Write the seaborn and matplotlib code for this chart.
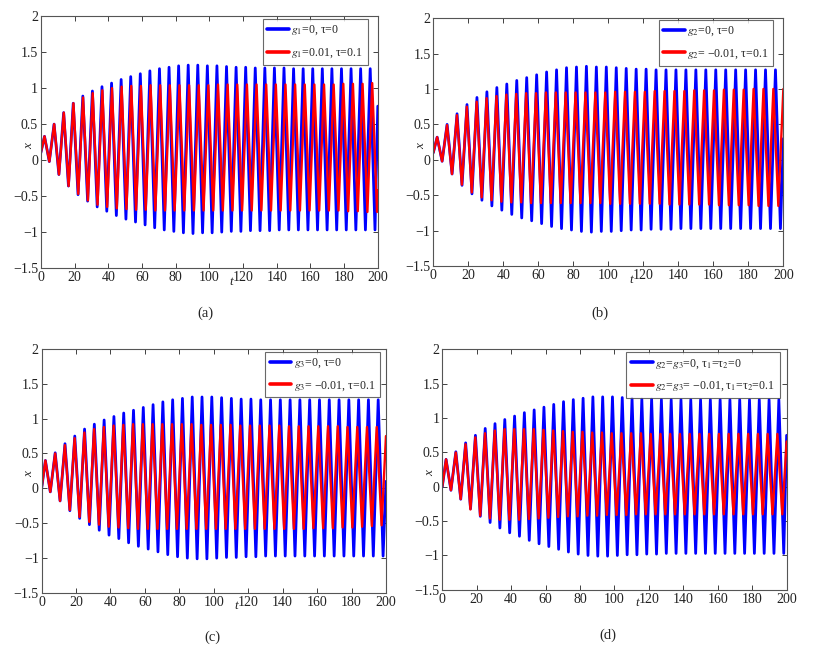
import numpy as np
import pandas as pd
import matplotlib
matplotlib.use("Agg")
import matplotlib.pyplot as plt
import seaborn as sns
from matplotlib.ticker import FuncFormatter

# =============================================================================
# DATA (successive maxima / minima of x(t))
# =============================================================================

T_FIRST = 2.2          # time of the first maximum
T_END = 200.0

# panel (a)
a_blue_start, a_blue_end, a_blue_period = 0.10, 0.75, 5.685
a_blue_peaks = [0.33, 0.50, 0.66, 0.79, 0.89, 0.96, 1.02, 1.07, 1.12, 1.16, 1.20, 1.24,
                1.27, 1.29, 1.31, 1.32, 1.32, 1.31, 1.31, 1.30, 1.29, 1.29, 1.28, 1.28,
                1.28, 1.28, 1.27, 1.27, 1.27, 1.27, 1.27, 1.27, 1.27, 1.27, 1.27]
a_blue_troughs = [-0.02, -0.20, -0.36, -0.48, -0.57, -0.65, -0.71, -0.77, -0.82, -0.86,
                  -0.90, -0.94, -0.97, -0.99, -1.01, -1.02, -1.01, -1.01, -1.00, -0.99,
                  -0.99, -0.98, -0.98, -0.98, -0.97, -0.97, -0.97, -0.97, -0.97, -0.97,
                  -0.97, -0.97, -0.97, -0.97, -0.97]
a_red_start, a_red_end, a_red_period = 0.10, -0.42, 5.72
a_red_peaks = [0.33, 0.50, 0.66, 0.79, 0.87, 0.93, 0.97, 1.00, 1.02, 1.03, 1.03, 1.04,
               1.04, 1.04, 1.04, 1.04, 1.04, 1.04, 1.05, 1.05, 1.05, 1.05, 1.05, 1.05,
               1.05, 1.05, 1.05, 1.05, 1.05, 1.05, 1.05, 1.06, 1.06, 1.06, 1.07]
a_red_troughs = [-0.02, -0.20, -0.36, -0.47, -0.56, -0.62, -0.65, -0.67, -0.68, -0.69,
                 -0.69, -0.70, -0.70, -0.70, -0.70, -0.70, -0.70, -0.70, -0.70, -0.70,
                 -0.70, -0.70, -0.70, -0.70, -0.70, -0.70, -0.70, -0.70, -0.70, -0.70,
                 -0.70, -0.71, -0.71, -0.72, -0.72]

# panel (b)
b_blue_start, b_blue_end, b_blue_period = 0.10, 0.30, 5.685
b_blue_peaks = [0.32, 0.50, 0.65, 0.78, 0.88, 0.96, 1.02, 1.07, 1.12, 1.16, 1.20, 1.24,
                1.27, 1.30, 1.31, 1.32, 1.31, 1.31, 1.30, 1.29, 1.28, 1.28, 1.27, 1.27,
                1.27, 1.27, 1.27, 1.27, 1.27, 1.27, 1.27, 1.27, 1.27, 1.27, 1.27]
b_blue_troughs = [-0.02, -0.20, -0.36, -0.48, -0.57, -0.65, -0.71, -0.77, -0.82, -0.86,
                  -0.90, -0.94, -0.97, -0.99, -1.01, -1.02, -1.01, -1.01, -1.00, -0.99,
                  -0.99, -0.98, -0.98, -0.98, -0.97, -0.97, -0.97, -0.97, -0.97, -0.97,
                  -0.97, -0.97, -0.97, -0.97, -0.97]
b_red_start, b_red_end, b_red_period = 0.10, 1.00, 5.65
b_red_peaks = [0.32, 0.49, 0.63, 0.75, 0.82, 0.87, 0.90, 0.92, 0.93, 0.94, 0.94, 0.95,
               0.95, 0.95, 0.95, 0.95, 0.95, 0.95, 0.96, 0.96, 0.96, 0.96, 0.97, 0.97,
               0.97, 0.97, 0.98, 0.98, 0.98, 0.99, 0.99, 0.99, 1.00, 1.00, 1.00]
b_red_troughs = [-0.02, -0.20, -0.35, -0.46, -0.53, -0.57, -0.59, -0.60, -0.60, -0.61,
                 -0.61, -0.61, -0.61, -0.61, -0.61, -0.61, -0.61, -0.62, -0.62, -0.62,
                 -0.62, -0.62, -0.62, -0.63, -0.63, -0.63, -0.63, -0.63, -0.64, -0.64,
                 -0.64, -0.64, -0.65, -0.65, -0.65]

# panel (c)
c_blue_start, c_blue_end, c_blue_period = 0.0, 0.10, 5.685
c_blue_peaks = [0.40, 0.51, 0.64, 0.75, 0.85, 0.92, 0.98, 1.03, 1.08, 1.12, 1.16, 1.20,
                1.24, 1.27, 1.29, 1.31, 1.31, 1.31, 1.30, 1.29, 1.28, 1.28, 1.27, 1.27,
                1.27, 1.27, 1.27, 1.27, 1.27, 1.27, 1.27, 1.27, 1.27, 1.27, 1.27]
c_blue_troughs = [-0.05, -0.18, -0.32, -0.43, -0.52, -0.60, -0.67, -0.72, -0.78, -0.83,
                  -0.87, -0.91, -0.95, -0.98, -1.00, -1.01, -1.01, -1.00, -0.99, -0.99,
                  -0.98, -0.98, -0.97, -0.97, -0.97, -0.97, -0.97, -0.97, -0.97, -0.97,
                  -0.97, -0.97, -0.97, -0.97, -0.97]
c_red_start, c_red_end, c_red_period = 0.0, 0.75, 5.66
c_red_peaks = [0.40, 0.50, 0.62, 0.72, 0.80, 0.85, 0.88, 0.90, 0.91, 0.92, 0.92, 0.92,
               0.92, 0.92, 0.92, 0.92, 0.91, 0.91, 0.91, 0.91, 0.90, 0.90, 0.90, 0.90,
               0.90, 0.89, 0.89, 0.89, 0.89, 0.89, 0.89, 0.88, 0.88, 0.88, 0.88]
c_red_troughs = [-0.05, -0.18, -0.31, -0.41, -0.48, -0.52, -0.55, -0.56, -0.57, -0.58,
                 -0.58, -0.58, -0.58, -0.58, -0.58, -0.58, -0.58, -0.58, -0.58, -0.58,
                 -0.58, -0.58, -0.58, -0.58, -0.58, -0.58, -0.58, -0.57, -0.57, -0.57,
                 -0.56, -0.56, -0.55, -0.54, -0.53]

# panel (d)
d_blue_start, d_blue_end, d_blue_period = 0.0, 0.75, 5.685
d_blue_peaks = c_blue_peaks
d_blue_troughs = c_blue_troughs
d_red_start, d_red_end, d_red_period = 0.0, 0.66, 5.66
d_red_peaks = [0.40, 0.50, 0.62, 0.72, 0.78, 0.82, 0.84, 0.84, 0.84, 0.84, 0.83, 0.82,
               0.81, 0.80, 0.80, 0.79, 0.79, 0.78, 0.78, 0.78, 0.78, 0.77, 0.77, 0.77,
               0.77, 0.77, 0.77, 0.77, 0.77, 0.77, 0.77, 0.77, 0.77, 0.77, 0.77]
d_red_troughs = [-0.05, -0.18, -0.33, -0.42, -0.46, -0.48, -0.48, -0.48, -0.47, -0.46,
                 -0.45, -0.44, -0.43, -0.43, -0.42, -0.42, -0.41, -0.41, -0.41, -0.40,
                 -0.40, -0.40, -0.40, -0.40, -0.40, -0.40, -0.40, -0.40, -0.40, -0.40,
                 -0.40, -0.40, -0.40, -0.40, -0.40]

LABELS = {
    "a": ["$g_1$=0, τ=0", "$g_1$=0.01, τ=0.1"],
    "b": ["$g_2$=0, τ=0", "$g_2$= −0.01, τ=0.1"],
    "c": ["$g_3$=0, τ=0", "$g_3$= −0.01, τ=0.1"],
    "d": ["$g_2$=$g_3$=0, τ$_1$=τ$_2$=0", "$g_2$=$g_3$= −0.01, τ$_1$=τ$_2$=0.1"],
}

X_TICKS = [0, 20, 40, 60, 80, 100, 120, 140, 160, 180, 200]
Y_TICKS = [-1.5, -1, -0.5, 0, 0.5, 1, 1.5, 2]


def build_series(start, peaks, troughs, period, end, label):
    t = [0.0]
    t += [T_FIRST + k * period for k in range(len(peaks))]
    t += [T_FIRST + (k + 0.5) * period for k in range(len(troughs))]
    t += [T_END]
    x = [start] + list(peaks) + list(troughs) + [end]
    df = pd.DataFrame({"t": t, "x": x, "case": label})
    df = df[df["t"] <= T_END].sort_values("t")
    return df


# =============================================================================
# FIGURE
# =============================================================================

sns.set_style("ticks")
plt.rcParams["font.family"] = ["Liberation Serif", "DejaVu Serif"]
plt.rcParams["mathtext.fontset"] = "stix"
plt.rcParams["axes.unicode_minus"] = True

fig = plt.figure(figsize=(8.16, 6.46), dpi=100)

# axes rect, caption centre (px), legend gap from the top-right corner (px)
panels = {
    "a": dict(rect=[0.050, 0.585, 0.413, 0.390], cap=(205, 313), gap=(10, 3),
              blue=(a_blue_start, a_blue_peaks, a_blue_troughs, a_blue_period, a_blue_end),
              red=(a_red_start, a_red_peaks, a_red_troughs, a_red_period, a_red_end)),
    "b": dict(rect=[0.531, 0.588, 0.429, 0.384], cap=(600, 313), gap=(10, 2),
              blue=(b_blue_start, b_blue_peaks, b_blue_troughs, b_blue_period, b_blue_end),
              red=(b_red_start, b_red_peaks, b_red_troughs, b_red_period, b_red_end)),
    "c": dict(rect=[0.051, 0.082, 0.422, 0.378], cap=(212, 637), gap=(6, 3),
              blue=(c_blue_start, c_blue_peaks, c_blue_troughs, c_blue_period, c_blue_end),
              red=(c_red_start, c_red_peaks, c_red_troughs, c_red_period, c_red_end)),
    "d": dict(rect=[0.542, 0.087, 0.422, 0.372], cap=(608, 635), gap=(7, 3),
              blue=(d_blue_start, d_blue_peaks, d_blue_troughs, d_blue_period, d_blue_end),
              red=(d_red_start, d_red_peaks, d_red_troughs, d_red_period, d_red_end)),
}

fmt = FuncFormatter(lambda v, p: f"{v:g}".replace("-", "\u2212"))

for key, p in panels.items():
    ax = fig.add_axes(p["rect"])
    lab_blue, lab_red = LABELS[key]
    blue_df = build_series(*p["blue"][:4], p["blue"][4], lab_blue)
    red_df = build_series(*p["red"][:4], p["red"][4], lab_red)
    sns.lineplot(data=blue_df, x="t", y="x", color="#0000ff", lw=2.0,
                 estimator=None, label=lab_blue, ax=ax,
                 solid_joinstyle="round", solid_capstyle="round")
    sns.lineplot(data=red_df, x="t", y="x", color="#ff0000", lw=1.7,
                 estimator=None, label=lab_red, ax=ax,
                 solid_joinstyle="round", solid_capstyle="round")

    ax.set_xlim(0, 200)
    ax.set_ylim(-1.5, 2)
    ax.set_xticks(X_TICKS)
    ax.set_yticks(Y_TICKS)
    ax.xaxis.set_major_formatter(fmt)
    ax.yaxis.set_major_formatter(fmt)
    ax.tick_params(direction="in", top=True, right=True, length=3.5, width=0.6,
                   labelsize=10, colors="#222222", pad=2)
    for s in ax.spines.values():
        s.set_color("#555555")
        s.set_linewidth(0.8)
    ax.set_xlabel("")
    ax.set_ylabel("")
    ax.text(113, -0.03, "t", transform=ax.get_xaxis_transform(), style="italic",
            fontsize=9.5, ha="center", va="top")
    ax.text(-0.035, 0.2, "x", transform=ax.get_yaxis_transform(), style="italic",
            fontsize=9.5, ha="center", va="center", rotation=90)

    bb = ax.get_position()
    w_px, h_px = bb.width * 816, bb.height * 646
    anchor = (1 - p["gap"][0] / w_px, 1 - p["gap"][1] / h_px)
    h, l = ax.get_legend_handles_labels()
    leg = ax.legend(h, l, loc="upper right", bbox_to_anchor=anchor, borderaxespad=0,
                    fontsize=8.6, frameon=True, fancybox=False, edgecolor="#444444",
                    handlelength=1.8, handletextpad=0.2, borderpad=0.4,
                    labelspacing=0.75)
    leg.get_frame().set_linewidth(0.8)
    for line in leg.get_lines():
        line.set_linewidth(2.6)

    fig.text(p["cap"][0] / 816, 1 - p["cap"][1] / 646, f"({key})", fontsize=10.5,
             ha="center", va="center")

fig.savefig("out.png", dpi=100)
